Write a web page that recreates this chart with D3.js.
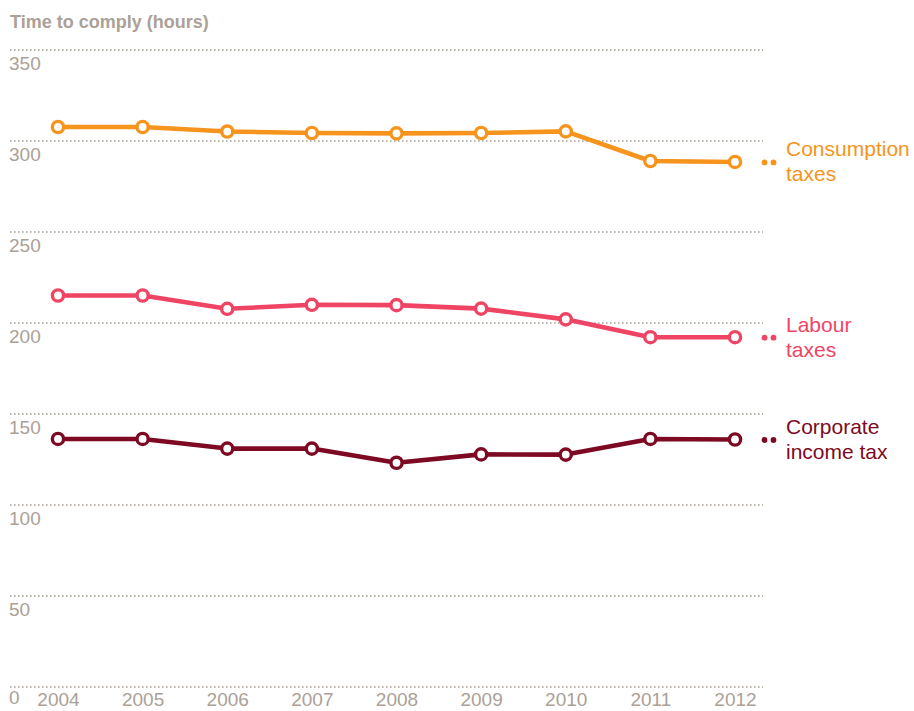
<!DOCTYPE html>
<html>
<head>
<meta charset="utf-8">
<script src="https://cdn.jsdelivr.net/npm/d3@7/dist/d3.min.js"></script>
<style>
  body { margin: 0; background: #fff; }
  svg { display: block; font-family: "Liberation Sans", Arial, Helvetica, sans-serif; }
</style>
</head>
<body>
<svg id="chart" width="914" height="711"></svg>
<script>
// Years on the horizontal axis
const years = [2004, 2005, 2006, 2007, 2008, 2009, 2010, 2011, 2012];

// Time to comply, hours per year
const consumptionTaxes = [307.7, 307.7, 305.2, 304.4, 304.2, 304.4, 305.3, 289, 288.5];
const labourTaxes      = [215.1, 215.1, 207.8, 210, 209.8, 207.9, 202, 192.2, 192.2];
const corporateTax     = [136.3, 136.3, 131, 131, 123.2, 127.8, 127.7, 136.3, 136];

const yTicks = [0, 50, 100, 150, 200, 250, 300, 350];

const seriesNames = [["Consumption", "taxes"], ["Labour", "taxes"], ["Corporate", "income tax"]];
const seriesColors = ["#f7941d", "#ef4464", "#7d0a22"];
const seriesValues = [consumptionTaxes, labourTaxes, corporateTax];

const svg = d3.select("#chart");
const grey = "#aba197";

const x = d3.scalePoint().domain(years).range([58, 735]);
const y = d3.scaleLinear().domain([0, 350]).range([687, 50]);

// Dotted horizontal gridlines with value labels underneath
const grid = svg.append("g");
yTicks.forEach(t => {
  grid.append("line")
    .attr("x1", 10).attr("x2", 763)
    .attr("y1", y(t)).attr("y2", y(t))
    .attr("stroke", grey)
    .attr("stroke-width", 1.6)
    .attr("stroke-dasharray", "1.6,2.4");
  grid.append("text")
    .attr("x", 9)
    .attr("y", y(t) + (t === 0 ? 17 : 20))
    .attr("fill", grey)
    .attr("font-size", 19)
    .text(t);
});

// Year labels
const xAxis = d3.axisBottom(x).tickSize(0).tickPadding(0);
const xg = svg.append("g").attr("transform", "translate(0,706)").call(xAxis);
xg.select(".domain").remove();
xg.selectAll("text")
  .attr("fill", grey)
  .attr("font-size", 19)
  .attr("font-family", "Liberation Sans, Arial, sans-serif")
  .attr("dy", 0);

// Axis title
svg.append("text")
  .attr("x", 10).attr("y", 28)
  .attr("fill", grey)
  .attr("font-size", 18)
  .attr("font-weight", "bold")
  .text("Time to comply (hours)");

const line = d3.line().x((d, i) => x(years[i])).y(d => y(d));

seriesValues.forEach((vals, s) => {
  const col = seriesColors[s];
  const g = svg.append("g");
  g.append("path")
    .datum(vals)
    .attr("d", line)
    .attr("fill", "none")
    .attr("stroke", col)
    .attr("stroke-width", 4.6)
    .attr("stroke-linejoin", "round");
  g.selectAll("circle.pt")
    .data(vals)
    .join("circle")
    .attr("class", "pt")
    .attr("cx", (d, i) => x(years[i]))
    .attr("cy", d => y(d))
    .attr("r", 5.6)
    .attr("fill", "#fff")
    .attr("stroke", col)
    .attr("stroke-width", 3.4);

  // Two small dots leading to the series name
  const last = vals[vals.length - 1];
  [764.5, 773.5].forEach(cx => {
    g.append("circle")
      .attr("cx", cx).attr("cy", y(last) + 0.5)
      .attr("r", 2.9)
      .attr("fill", col);
  });
  const label = g.append("text")
    .attr("x", 786)
    .attr("y", y(last) - 5.5)
    .attr("fill", col)
    .attr("font-size", 21);
  seriesNames[s].forEach((ln, k) => {
    label.append("tspan").attr("x", 786).attr("dy", k === 0 ? 0 : 25).text(ln);
  });
});
</script>
</body>
</html>
